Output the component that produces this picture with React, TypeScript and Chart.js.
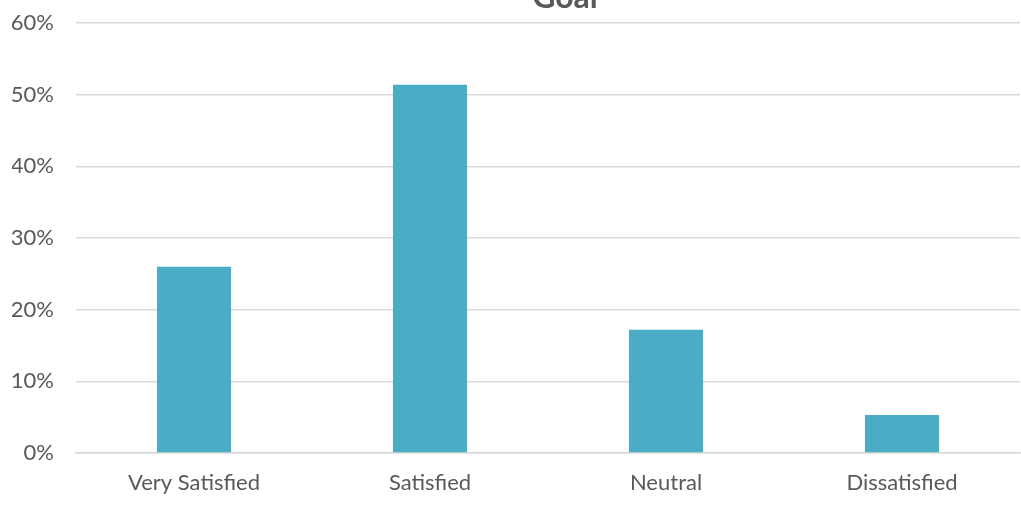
import React, { useEffect, useRef } from "react";
import { Chart, registerables } from "chart.js";

Chart.register(...registerables);

const titleText = "Goal";
const categories = ["Very Satisfied", "Satisfied", "Neutral", "Dissatisfied"];
const values = [26.0, 51.4, 17.2, 5.3];
const yTicks = [0, 10, 20, 30, 40, 50, 60];

const FONT = "Lato, 'Open Sans', sans-serif";

const titlePlugin = {
  id: "cutTitle",
  afterDraw(chart: any) {
    const { ctx, chartArea } = chart;
    ctx.save();
    ctx.font = `bold 32px ${FONT}`;
    ctx.fillStyle = "#595959";
    ctx.textAlign = "center";
    ctx.textBaseline = "alphabetic";
    ctx.fillText(titleText, (chartArea.left + chartArea.right) / 2 + 17, 8);
    ctx.restore();
  },
};

export default function App() {
  const ref = useRef<HTMLCanvasElement>(null);
  useEffect(() => {
    if (!ref.current) return;
    const chart = new Chart(ref.current, {
      type: "bar",
      data: {
        labels: categories,
        datasets: [
          {
            data: values,
            backgroundColor: "#4bacc6",
            borderWidth: 0,
            barPercentage: 0.314,
            categoryPercentage: 1,
          },
        ],
      },
      options: {
        responsive: false,
        animation: false,
        layout: { padding: { top: 23, left: 12, right: 1, bottom: 0 } },
        plugins: { legend: { display: false }, tooltip: { enabled: false }, title: { display: false } },
        scales: {
          x: {
            grid: { display: false, drawTicks: false },
            border: { display: true, color: "#d9d9d9", width: 1.5 },
            ticks: { color: "#595959", font: { family: FONT, size: 22 }, padding: 17 },
            afterFit(axis: any) {
              axis.height = 55;
              axis.paddingLeft = 0;
              axis.paddingRight = 0;
            },
          },
          y: {
            min: 0,
            max: 60,
            afterBuildTicks(axis: any) {
              axis.ticks = yTicks.map((v) => ({ value: v }));
            },
            afterFit(axis: any) {
              axis.width = 64;
              axis.paddingTop = 0;
              axis.paddingBottom = 0;
            },
            grid: { color: "#d9d9d9", lineWidth: 1.5, drawTicks: false },
            border: { display: false },
            ticks: {
              color: "#595959",
              font: { family: FONT, size: 22 },
              padding: 22,
              callback: (v: any) => `${v}%`,
            },
          },
        },
      },
      plugins: [titlePlugin],
    });
    return () => chart.destroy();
  }, []);
  return (
    <div style={{ position: "absolute", left: 0, top: 0, width: 1021, height: 508 }}>
      <canvas ref={ref} width={1021} height={508} style={{ display: "block" }} />
    </div>
  );
}
